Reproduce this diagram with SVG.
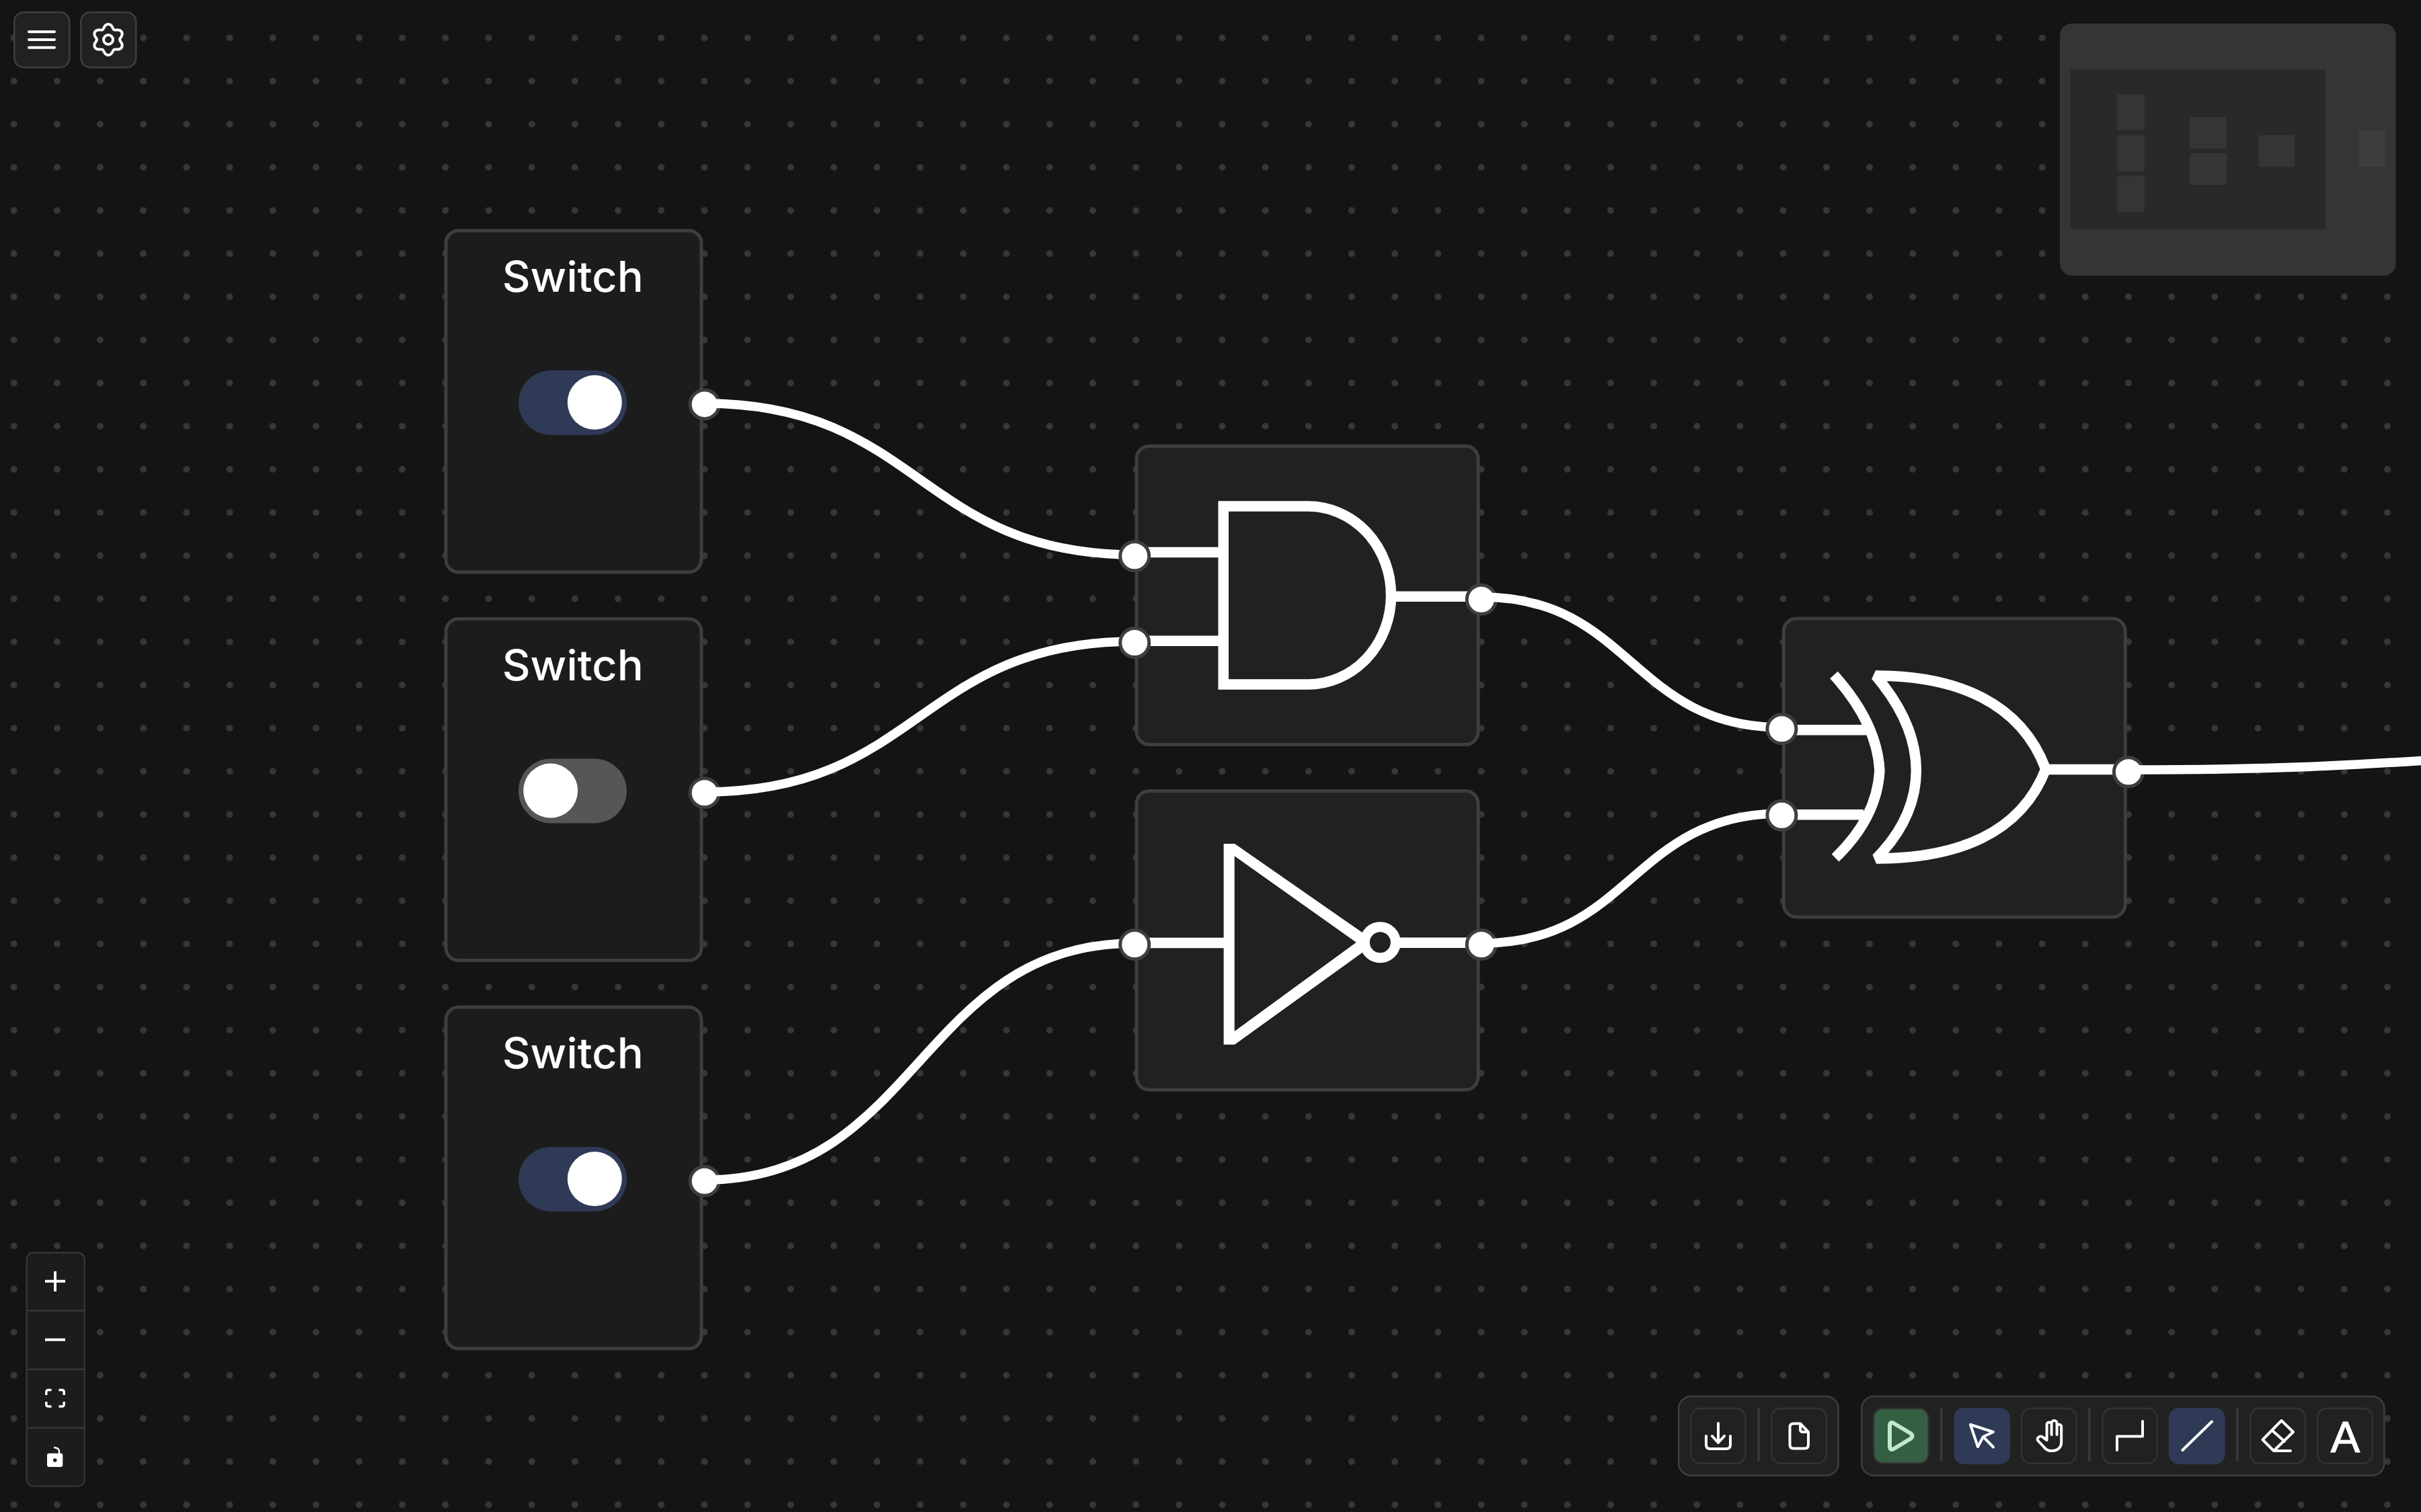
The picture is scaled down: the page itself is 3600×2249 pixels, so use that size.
<svg xmlns="http://www.w3.org/2000/svg" width="3600" height="2249" viewBox="0 0 3600 2249">
<style>
.node{stroke:#3e3e3e;stroke-width:5}
.sw{fill:#1c1c1c}
.gate{fill:#212121}
.port{fill:#fff;stroke:#3e3e3e;stroke-width:5}
.title{font-family:"Inter","Noto Sans",sans-serif;font-weight:500;font-size:63px;fill:#fff;text-anchor:middle}
.knob{fill:#fff}
.on{fill:#2e3a56}
.off{fill:#565656}
.sym{fill:none;stroke:#fff;stroke-width:15.5}
.wire{fill:none;stroke:#fff;stroke-width:13.5}
.ui{fill:#212121;stroke:#3e3e3e;stroke-width:2.5}
.btn{fill:none;stroke:#333;stroke-width:2.5}
.sep{fill:#383838}
.ico{fill:none;stroke:#fff;stroke-width:4;stroke-linecap:round;stroke-linejoin:round}
.mini{fill:#353535}
</style>
<defs>
<pattern id="dots" x="20.67" y="56.4" width="64.17" height="64.17" patternUnits="userSpaceOnUse">
<circle cx="0" cy="0" r="5" fill="#373737"/><circle cx="64.17" cy="0" r="5" fill="#373737"/><circle cx="0" cy="64.17" r="5" fill="#373737"/><circle cx="64.17" cy="64.17" r="5" fill="#373737"/>
</pattern>
</defs>
<rect id="canvas" width="3600" height="2249" fill="#141414"/>
<rect id="grid" width="3600" height="2249" fill="url(#dots)"/>

<g id="node-switch-1">
<rect class="node sw" x="663" y="343" width="380" height="508" rx="19"/>
<text class="title" x="851.7" y="434.3" textLength="210" lengthAdjust="spacingAndGlyphs">Switch</text>
<rect class="on" x="771" y="551" width="161" height="96" rx="48"/>
<circle class="knob" cx="884.3" cy="598.6" r="40.5"/>
<circle class="port" cx="1047.7" cy="601.4" r="21.5"/>
</g>
<g id="node-switch-2">
<rect class="node sw" x="663" y="920.5" width="380" height="508" rx="19"/>
<text class="title" x="851.7" y="1011.8" textLength="210" lengthAdjust="spacingAndGlyphs">Switch</text>
<rect class="off" x="771" y="1128.5" width="161" height="96" rx="48"/>
<circle class="knob" cx="818.7" cy="1176.1" r="40.5"/>
<circle class="port" cx="1047.7" cy="1179.3" r="21.5"/>
</g>
<g id="node-switch-3">
<rect class="node sw" x="663" y="1498" width="380" height="508" rx="19"/>
<text class="title" x="851.7" y="1589.3" textLength="210" lengthAdjust="spacingAndGlyphs">Switch</text>
<rect class="on" x="771" y="1706" width="161" height="96" rx="48"/>
<circle class="knob" cx="884.3" cy="1753.6" r="40.5"/>
<circle class="port" cx="1047.7" cy="1756.8" r="21.5"/>
</g>

<g id="node-and">
<rect class="node gate" x="1690" y="663.5" width="508" height="444" rx="19"/>
<path class="sym" d="M1687 821.5H1815M1687 953.3H1815M2068 887.3H2203"/>
<path class="sym" d="M1819.2 753H1945A123.5 132.5 0 0 1 1945 1018H1819.2Z"/>
<circle class="port" cx="2202.7" cy="891.7" r="21.5"/>
</g>
<g id="node-not">
<rect class="node gate" x="1690" y="1176.5" width="508" height="444.5" rx="19"/>
<path class="sym" d="M1687 1402.5H1825M2080 1402.2H2203"/>
<path fill="#fff" fill-rule="evenodd" d="M1819.6 1255H1836L2027 1388V1416L1836 1553.7H1819.6ZM1835.7 1273.3V1534L2016.7 1401.7Z"/>
<circle cx="2052.3" cy="1401.7" r="23" fill="none" stroke="#fff" stroke-width="15"/>
<circle class="port" cx="2202.7" cy="1405" r="21.5"/>
</g>
<g id="node-xor">
<rect class="node gate" x="2652.3" y="920" width="508" height="444" rx="19"/>
<path class="sym" d="M2650 1085.8H2775M2650 1211.7H2771M3040 1144.5H3165"/>
<path class="sym" d="M2727 1004Q2791 1075 2795 1146Q2791 1217 2729 1276"/>
<path class="sym" stroke-linejoin="bevel" d="M2789 1005C2910 1005 3005 1045 3042 1144C3005 1240 2910 1277 2790 1277Q2849 1217 2849.4 1146Q2849 1075 2789 1005Z"/>
<circle class="port" cx="3164.9" cy="1148.3" r="21.5"/>
</g>

<g id="connectors">
<path class="wire" d="M1048 600C1367 600 1367 825 1687 825"/>
<path class="wire" d="M1048 1178C1367 1178 1367 954 1687 954"/>
<path class="wire" d="M1048 1755C1367 1755 1367 1403 1687 1403"/>
<path class="wire" d="M2203 888C2426 888 2426 1082 2650 1082"/>
<path class="wire" d="M2203 1403C2426 1403 2426 1210 2650 1210"/>
<path class="wire" d="M3165 1145C3615 1145 3615 1116 4065 1116"/>
</g>

<g id="input-ports">
<circle class="port" cx="1687.2" cy="827.3" r="21.5"/>
<circle class="port" cx="1687.2" cy="956" r="21.5"/>
<circle class="port" cx="1687.2" cy="1405" r="21.5"/>
<circle class="port" cx="2649.4" cy="1084.3" r="21.5"/>
<circle class="port" cx="2649.4" cy="1212.7" r="21.5"/>
</g>

<g id="minimap">
<rect x="3063" y="35" width="499.6" height="375" rx="18" fill="#353535"/>
<rect x="3078.5" y="103.7" width="379.5" height="237.3" fill="#292929"/>
<rect class="mini" x="3148" y="140" width="41" height="53.7" rx="3"/>
<rect class="mini" x="3148" y="201" width="41" height="54" rx="3"/>
<rect class="mini" x="3148" y="262" width="41" height="54" rx="3"/>
<rect class="mini" x="3256" y="174" width="55" height="47" rx="3"/>
<rect class="mini" x="3256" y="228" width="55" height="47" rx="3"/>
<rect class="mini" x="3358.2" y="201" width="54" height="47" rx="3"/>
<rect x="3507" y="194" width="40" height="54" rx="3" fill="#3d3d3d"/>
</g>

<g id="menu-button">
<rect class="ui" x="21.3" y="18.3" width="82" height="82" rx="14"/>
<path class="ico" d="M43 47.3H81M43 59H81M43 70.7H81"/>
</g>
<g id="settings-button">
<rect class="ui" x="120.3" y="18.3" width="82" height="82" rx="14"/>
<g transform="translate(161 59)">
<path class="ico" d="M0 -23C6.5 -23 5.9 -16.22 8.5 -14.72C11.1 -13.22 16.65 -17.13 19.9 -11.5C23.15 -5.87 17 -3 17 0C17 3 23.15 5.87 19.9 11.5C16.65 17.13 11.1 13.22 8.5 14.72C5.9 16.22 6.5 23 0 23C-6.5 23 -5.9 16.22 -8.5 14.72C-11.1 13.22 -16.65 17.13 -19.9 11.5C-23.15 5.87 -17 3 -17 0C-17 -3 -23.15 -5.87 -19.9 -11.5C-16.65 -17.13 -11.1 -13.22 -8.5 -14.72C-5.9 -16.22 -6.5 -23 0 -23Z"/>
<circle class="ico" r="7"/>
</g>
</g>

<g id="zoom-controls">
<rect x="39.7" y="1863.3" width="86" height="347.5" rx="10" fill="#1c1c1c" stroke="#3a3a3a" stroke-width="2"/>
<path stroke="#3a3a3a" stroke-width="2" d="M40 1949.5H125M40 2036.7H125M40 2123.7H125"/>
<path stroke="#fff" stroke-width="4" d="M67 1905.7H97M82 1891V1921M67 1992.7H97"/>
<path fill="none" stroke="#fff" stroke-width="3.5" d="M76.5 2067.5H72Q68.8 2067.5 68.8 2071V2075M87.5 2067.5H92Q95.2 2067.5 95.2 2071V2075M76.5 2092H72Q68.8 2092 68.8 2089V2085M87.5 2092H92Q95.2 2092 95.2 2089V2085"/>
<rect x="70" y="2161.7" width="23.3" height="20.3" rx="3" fill="#fff"/>
<circle cx="81.7" cy="2172" r="2.8" fill="#1c1c1c"/>
<path fill="none" stroke="#fff" stroke-width="2.5" d="M88 2162V2159Q88 2153.5 80 2153"/>
</g>

<g id="toolbar-file">
<rect class="ui" x="2496.3" y="2077" width="237.2" height="117.7" rx="18"/>
<rect class="btn" x="2514.5" y="2094.7" width="81" height="82" rx="14"/>
<rect class="sep" x="2613.2" y="2094" width="3.6" height="80" rx="1.8"/>
<rect class="btn" x="2634.3" y="2094.7" width="81.4" height="82" rx="14"/>
<path class="ico" d="M2555 2117V2146M2546 2136L2555 2146L2564 2136M2537 2136V2149Q2537 2155 2543 2155H2567Q2573 2155 2573 2149V2136"/>
<path class="ico" stroke-width="3.5" d="M2677 2117.5H2667Q2661.5 2117.5 2661.5 2123V2149Q2661.5 2154.5 2667 2154.5H2683.5Q2689 2154.5 2689 2149V2130ZM2677 2117.5V2126Q2677 2130 2681 2130H2689"/>
</g>

<g id="toolbar-tools">
<rect class="ui" x="2768.4" y="2077" width="777" height="117.7" rx="18"/>
<rect x="2786" y="2095" width="81.6" height="81.6" rx="14" fill="#345f42" stroke="#333" stroke-width="2.5"/>
<path fill="none" stroke="#c4e6cf" stroke-width="6" stroke-linejoin="round" d="M2810 2121Q2810 2114 2816 2117L2841 2132Q2846 2136 2841 2140L2816 2155Q2810 2158 2810 2151Z"/>
<rect class="sep" x="2885" y="2094" width="3.6" height="80" rx="1.8"/>
<rect x="2905.2" y="2094" width="83.8" height="84" rx="15" class="on"/>
<path class="ico" d="M2930 2119L2964 2130L2949 2137L2941 2152ZM2949 2137L2964 2152.5"/>
<rect class="btn" x="3006.2" y="2094.7" width="81.2" height="82" rx="14"/>
<path class="ico" stroke-width="3.5" d="M3043.6 2134V2119A3.5 3.5 0 0 1 3050.6 2119V2134M3050.6 2117A4 4 0 0 1 3058.6 2117V2134M3058.6 2122A3.3 3.3 0 0 1 3065.2 2122V2146A13 12 0 0 1 3052.2 2158H3050C3045 2158 3042 2156 3039 2152L3030.5 2143A3.5 3.5 0 0 1 3031 2138C3033 2136 3036 2136 3038 2138L3043.6 2142V2119"/>
<rect class="sep" x="3105" y="2094" width="3.6" height="80" rx="1.8"/>
<rect class="btn" x="3126.5" y="2094.7" width="81" height="82" rx="14"/>
<path class="ico" stroke-width="5" stroke-linejoin="miter" d="M3148 2157V2136.5H3186V2114"/>
<rect x="3225" y="2094" width="83.6" height="84" rx="15" class="on"/>
<path class="ico" stroke-width="4.5" d="M3245.4 2157L3289 2114.5"/>
<rect class="sep" x="3325" y="2094" width="3.6" height="80" rx="1.8"/>
<rect class="btn" x="3346.2" y="2094.7" width="81.6" height="82" rx="14"/>
<path class="ico" d="M3381 2158L3364.5 2141.5L3392.5 2113L3410 2130L3381 2158H3406M3378.5 2127.5L3397 2144"/>
<rect class="btn" x="3446.2" y="2094.7" width="81.6" height="82" rx="14"/>
<text x="3487.4" y="2160" font-family="'Liberation Sans',Arial,sans-serif" font-size="65" fill="#fff" stroke="#fff" stroke-width="1.2" text-anchor="middle">A</text>
</g>
</svg>
